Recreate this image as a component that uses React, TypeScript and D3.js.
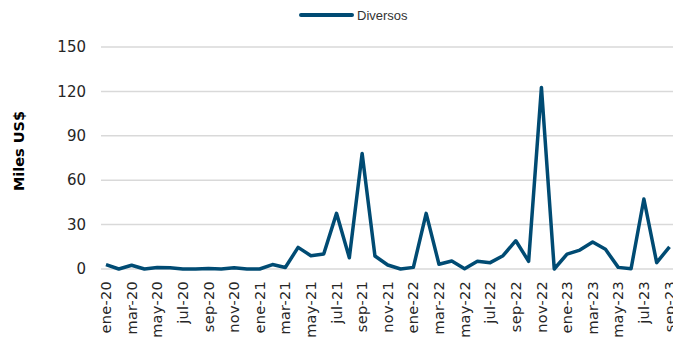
import React from "react";
import * as d3 from "d3";

const months = ["ene","feb","mar","abr","may","jun","jul","ago","sep","oct","nov","dic"];
const years = ["20","21","22","23"];
const categories: string[] = [];
years.forEach((y) => months.forEach((m) => categories.push(`${m}-${y}`)));
const labels = categories.slice(0, 45);
const diversos = [
  3, 0, 2.5, 0, 1, 0.8, 0, 0, 0.3, 0, 0.8, 0,
  0, 3, 1, 14.6, 9, 10.1, 37.6, 7.6, 78, 8.8, 2.7, 0,
  1.1, 37.6, 3.2, 5.4, 0.2, 5.2, 4.3, 9, 19.1, 5.2, 122.7, 0,
  10.1, 12.8, 18.2, 13.3, 1.1, 0.2, 47.3, 4.3, 15,
];
const yTicks = [0, 30, 60, 90, 120, 150];

export default function App() {
  const W = 673, H = 338;
  const color = "#004b73";
  const x = d3.scaleLinear().domain([0, labels.length - 1]).range([106, 669.5]);
  const y = d3.scaleLinear().domain([0, 150]).range([269, 47]);
  const line = d3.line<number>().x((_, i) => x(i)).y((d) => y(d));
  const font = "'DejaVu Sans', sans-serif";
  return (
    <svg width={W} height={H} style={{ position: "absolute", left: 0, top: 0 }}>
      <rect width={W} height={H} fill="#fff" />
      {yTicks.map((t) => (
        <g key={t}>
          <line x1={101} x2={673} y1={y(t)} y2={y(t)} stroke="#d9d9d9" strokeWidth={1.5} />
          <text x={86} y={y(t)} dy="0.35em" textAnchor="end" fontSize={15} fill="#262626" fontFamily={font}>{t}</text>
        </g>
      ))}
      <path d={line(diversos) || ""} fill="none" stroke={color} strokeWidth={3.5} strokeLinejoin="round" />
      {labels.map((l, i) => i % 2 === 0 ? (
        <text key={l} transform={`translate(${x(i)},${281}) rotate(-90)`} dy="0.35em" textAnchor="end" fontSize={14.5} letterSpacing={0.3} fontFamily={font} fill="#262626">{l}</text>
      ) : null)}
      <text transform="translate(19,151) rotate(-90)" textAnchor="middle" dy="0.35em" fontSize={14.5} fontWeight="bold" fontFamily={font} fill="#000">Miles US$</text>
      <line x1={301} x2={352} y1={15} y2={15} stroke={color} strokeWidth={4} strokeLinecap="round" />
      <text x={357} y={15} dy="0.35em" fontSize={13} fontFamily="'Liberation Sans', sans-serif" fill="#333">Diversos</text>
    </svg>
  );
}
